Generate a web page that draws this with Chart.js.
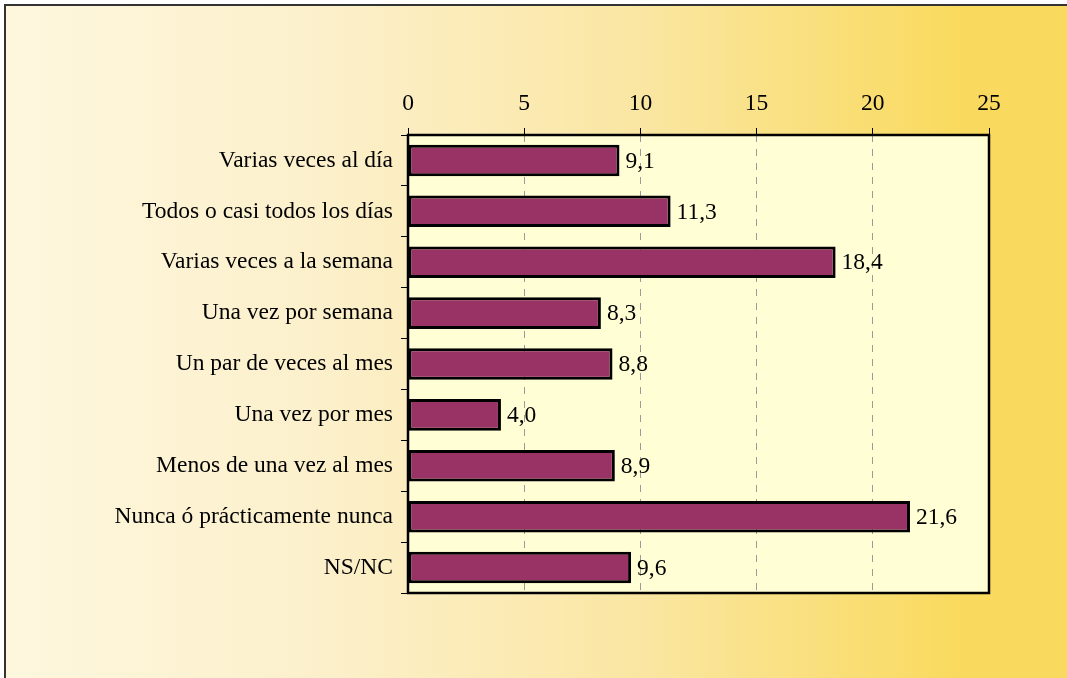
<!DOCTYPE html>
<html lang="es">
<head>
<meta charset="UTF-8">
<title>Frecuencia</title>
<script src="https://cdn.jsdelivr.net/npm/chart.js"></script>
<style>
  body { margin: 0; background: #fff; }
  #wrap { width: 1067px; height: 678px; position: relative; }
</style>
</head>
<body>
<div id="wrap"><canvas id="myChart"></canvas></div>
<script>
// datos
const categorias = [
    "Varias veces al día",
    "Todos o casi todos los días",
    "Varias veces a la semana",
    "Una vez por semana",
    "Un par de veces al mes",
    "Una vez por mes",
    "Menos de una vez al mes",
    "Nunca ó prácticamente nunca",
    "NS/NC"
];
const valores = [9.1, 11.3, 18.4, 8.3, 8.8, 4.0, 8.9, 21.6, 9.6];
const ticksX = [0, 5, 10, 15, 20, 25];

const fuente = "'Liberation Serif', 'Times New Roman', serif";
const tamFuente = 23.5;

// fondo degradado + marco exterior + fondo del area de trazado
const fondoPlugin = {
    id: "fondo",
    beforeDraw(chart) {
        const c = chart.ctx;
        const w = chart.width, h = chart.height;
        c.save();
        const g = c.createLinearGradient(6, 0, w, 0);
        g.addColorStop(0, "#FEF7DE");
        g.addColorStop(0.3, "#FCF0CB");
        g.addColorStop(0.6, "#FAE6A2");
        g.addColorStop(0.9, "#F9DA5E");
        g.addColorStop(1, "#F9DA5E");
        c.fillStyle = g;
        c.fillRect(6, 6, w - 6, h - 6);
        c.strokeStyle = "#333";
        c.lineWidth = 2;
        c.beginPath();
        c.moveTo(5, h);
        c.lineTo(5, 5);
        c.lineTo(w, 5);
        c.stroke();
        const a = chart.chartArea;
        c.fillStyle = "#FFFED5";
        c.fillRect(a.left, a.top, a.right - a.left, a.bottom - a.top);
        c.restore();
    },
    afterDraw(chart) {
        const c = chart.ctx;
        const a = chart.chartArea;
        c.save();
        c.strokeStyle = "#000";
        c.lineWidth = 2.5;
        c.strokeRect(a.left, a.top, a.right - a.left, a.bottom - a.top);
        c.restore();
    }
};

// etiquetas de valor con coma decimal
const etiquetasPlugin = {
    id: "etiquetas",
    afterDatasetsDraw(chart) {
        const c = chart.ctx;
        const meta = chart.getDatasetMeta(0);
        c.save();
        c.font = tamFuente + "px " + fuente;
        c.fillStyle = "#000";
        c.textBaseline = "middle";
        c.textAlign = "left";
        meta.data.forEach((bar, i) => {
            const txt = valores[i].toFixed(1).replace(".", ",");
            c.fillText(txt, bar.x + 6, bar.y + 1);
        });
        c.restore();
    }
};

const ctx = document.querySelector("#myChart");
const grafico = new Chart(ctx, {
    type: "bar",
    data: {
        labels: categorias,
        datasets: [{
            data: valores,
            backgroundColor: "#993366",
            borderColor: "#000",
            borderWidth: 3,
            borderSkipped: false,
            barPercentage: 0.62,
            categoryPercentage: 1
        }]
    },
    options: {
        indexAxis: "y",
        responsive: true,
        maintainAspectRatio: false,
        animation: false,
        layout: { padding: { left: 0, top: 0, right: 78, bottom: 85 } },
        plugins: {
            legend: { display: false },
            tooltip: { enabled: false }
        },
        scales: {
            x: {
                position: "top",
                min: 0,
                max: 25,
                afterBuildTicks(scale) {
                    scale.ticks = ticksX.map(v => ({ value: v }));
                },
                afterFit(scale) { scale.height = 135; },
                ticks: {
                    color: "#000",
                    font: { family: fuente, size: tamFuente },
                    padding: 10,
                    maxRotation: 0
                },
                grid: {
                    color: "#9a9a9a",
                    tickColor: "#000",
                    tickLength: 7,
                    tickBorderDash: []
                },
                // en v4 el trazo discontinuo de la rejilla sale de border.dash
                border: { display: false, dash: [7, 7] }
            },
            y: {
                afterFit(scale) { scale.width = 408; },
                ticks: {
                    color: "#000",
                    font: { family: fuente, size: tamFuente },
                    padding: 8
                },
                grid: {
                    offset: true,
                    drawOnChartArea: false,
                    tickColor: "#000",
                    tickLength: 7
                },
                border: { display: false }
            }
        }
    },
    plugins: [fondoPlugin, etiquetasPlugin]
});
</script>
</body>
</html>
